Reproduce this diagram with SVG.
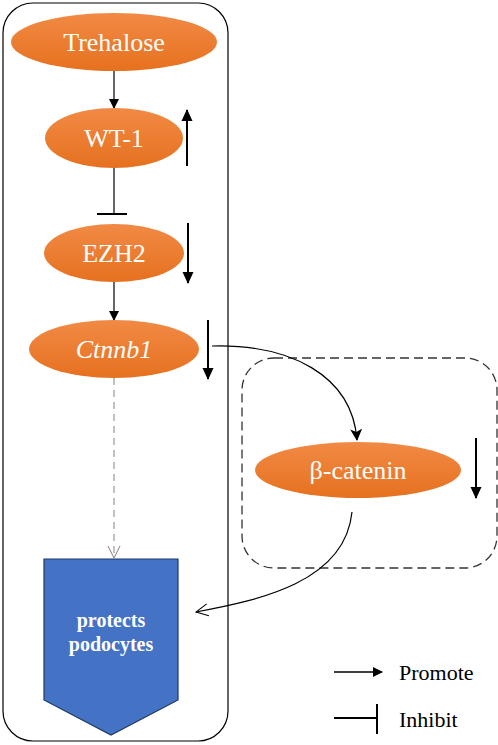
<svg xmlns="http://www.w3.org/2000/svg" width="498" height="745" viewBox="0 0 498 745">
<defs>
<linearGradient id="og" x1="0" y1="0" x2="0" y2="1">
<stop offset="0" stop-color="#F18A45"/>
<stop offset="1" stop-color="#E6711F"/>
</linearGradient>
<marker id="ah" markerWidth="10" markerHeight="10" refX="9" refY="5" orient="auto" markerUnits="userSpaceOnUse">
<path d="M0,0 L10,5 L0,10 Z" fill="#000"/>
</marker>
<marker id="ahb" markerWidth="12" markerHeight="12" refX="11" refY="6" orient="auto" markerUnits="userSpaceOnUse">
<path d="M0,0.5 L12,6 L0,11.5 Z" fill="#000"/>
</marker>
<marker id="ahn" markerWidth="12" markerHeight="12" refX="11" refY="6" orient="auto" markerUnits="userSpaceOnUse">
<path d="M0,0 L12,6 L0,12 L3,6 Z" fill="#000"/>
</marker>
<marker id="ahv" markerWidth="14" markerHeight="14" refX="13" refY="7" orient="auto" markerUnits="userSpaceOnUse">
<path d="M1,1 L13,7 L1,13" fill="none" stroke="#000" stroke-width="1"/>
</marker>
<marker id="ahg" markerWidth="14" markerHeight="14" refX="13" refY="7" orient="auto" markerUnits="userSpaceOnUse">
<path d="M1,1 L13,7 L1,13" fill="none" stroke="#808080" stroke-width="1"/>
</marker>
</defs>
<style>
.node{fill:url(#og);}
.lbl{font-family:"Liberation Serif","Times New Roman",serif;font-size:26px;fill:#fff;text-anchor:middle;}
.conn{fill:none;stroke:#000;stroke-width:1.2;}
.ind{fill:none;stroke:#000;stroke-width:2;}
.leg{font-family:"Liberation Serif","Times New Roman",serif;font-size:22px;fill:#000;}
.pp{font-family:"Liberation Serif","Times New Roman",serif;font-size:20px;font-weight:bold;fill:#fff;text-anchor:middle;}
</style>
<rect width="498" height="745" fill="#fff"/>
<g id="outer-box">
<rect x="3" y="3" width="225" height="738" rx="30" ry="30" fill="none" stroke="#000" stroke-width="1.2"/>
</g>
<g id="dashed-box">
<rect x="242" y="358" width="255" height="210" rx="32" ry="32" fill="none" stroke="#333" stroke-width="1.3" stroke-dasharray="9,5"/>
</g>
<g id="connectors">
<line class="conn" x1="114" y1="71" x2="114" y2="108" marker-end="url(#ah)"/>
<line class="conn" x1="114" y1="168" x2="114" y2="214" stroke-width="1.5"/>
<line x1="97" y1="214" x2="127" y2="214" stroke="#000" stroke-width="2"/>
<line class="conn" x1="114" y1="282" x2="114" y2="320" marker-end="url(#ah)"/>
<line x1="114" y1="378" x2="114" y2="558" fill="none" stroke="#999" stroke-width="1.2" stroke-dasharray="7,5" marker-end="url(#ahg)"/>
<path class="conn" d="M212,346 C290,344 352,375 357,440" marker-end="url(#ahn)"/>
<path class="conn" d="M352,512 C345,582 260,600 196,612" marker-end="url(#ahv)"/>
<line class="ind" x1="187" y1="166" x2="187" y2="110" marker-end="url(#ahb)"/>
<line class="ind" x1="188" y1="223" x2="188" y2="283" marker-end="url(#ahb)"/>
<line class="ind" x1="208" y1="320" x2="208" y2="379" marker-end="url(#ahb)"/>
<line class="ind" x1="476" y1="438" x2="476" y2="498" marker-end="url(#ahb)"/>
</g>
<g id="trehalose">
<ellipse class="node" cx="114" cy="42" rx="103" ry="29"/>
<text class="lbl" x="114" y="51">Trehalose</text>
</g>
<g id="wt1">
<ellipse class="node" cx="114" cy="138" rx="69" ry="30"/>
<text class="lbl" x="114" y="147">WT-1</text>
</g>
<g id="ezh2">
<ellipse class="node" cx="114" cy="253" rx="70" ry="29"/>
<text class="lbl" x="114" y="262">EZH2</text>
</g>
<g id="ctnnb1">
<ellipse class="node" cx="114" cy="349" rx="85" ry="29"/>
<text class="lbl" x="114" y="358" font-style="italic">Ctnnb1</text>
</g>
<g id="beta-catenin">
<ellipse class="node" cx="358" cy="470" rx="103" ry="28"/>
<text class="lbl" x="358" y="479">β-catenin</text>
</g>
<g id="protects-podocytes">
<polygon points="44,559 178,559 178,700 111,735 44,700" fill="#4472C4" stroke="#1F3864" stroke-width="1.2"/>
<text class="pp" x="111" y="627">protects</text>
<text class="pp" x="111" y="651">podocytes</text>
</g>
<g id="legend">
<line x1="334" y1="672" x2="382" y2="672" stroke="#000" stroke-width="1.5" marker-end="url(#ah)"/>
<text class="leg" x="399" y="680">Promote</text>
<line x1="334" y1="718" x2="377" y2="718" stroke="#000" stroke-width="2"/>
<line x1="377" y1="704" x2="377" y2="734" stroke="#000" stroke-width="2"/>
<text class="leg" x="399" y="727">Inhibit</text>
</g>
</svg>
